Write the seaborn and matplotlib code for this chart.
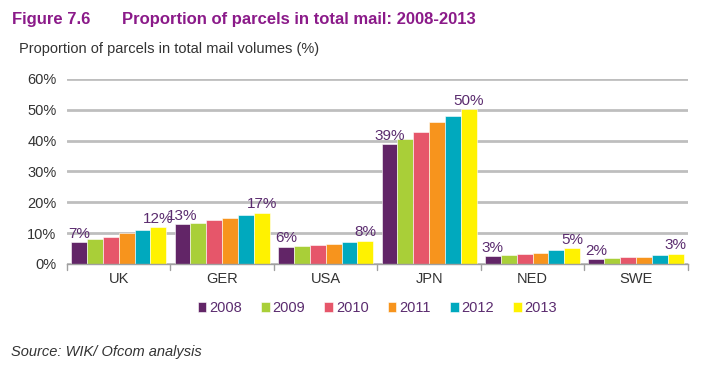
import pandas as pd
import seaborn as sns
import matplotlib.pyplot as plt

countries = ["UK", "GER", "USA", "JPN", "NED", "SWE"]
years = ["2008", "2009", "2010", "2011", "2012", "2013"]

# share of parcels in total mail volumes (%), one list per year
v2008 = [7.0, 12.9, 5.6, 38.8, 2.6, 1.6]
v2009 = [8.1, 13.4, 5.9, 40.5, 2.8, 1.9]
v2010 = [8.9, 14.3, 6.2, 42.9, 3.3, 2.2]
v2011 = [10.0, 14.8, 6.6, 45.9, 3.6, 2.4]
v2012 = [10.9, 15.8, 7.1, 47.9, 4.4, 2.8]
v2013 = [12.0, 16.6, 7.5, 50.2, 5.1, 3.3]

palette = ["#622567", "#A9CF38", "#E6566A", "#F7941D", "#00A9BE", "#FFF200"]
purple = "#8B1A89"
label_col = "#5B2C6F"

rows = []
for yr, vals in zip(years, [v2008, v2009, v2010, v2011, v2012, v2013]):
    for c, v in zip(countries, vals):
        rows.append({"Country": c, "Year": yr, "Value": v})
df = pd.DataFrame(rows)

sns.set_theme(style="white")
plt.rcParams["font.family"] = ["Liberation Sans", "DejaVu Sans"]

fig = plt.figure(figsize=(7.04, 3.67), dpi=100)
ax = fig.add_axes([0.0952, 0.2807, 0.8818, 0.5043])

sns.barplot(data=df, x="Country", y="Value", hue="Year", palette=palette,
            saturation=1, width=0.92, edgecolor="white", linewidth=0.4,
            ax=ax, legend=True)

ax.set_ylim(0, 60)
ax.set_xlim(-0.5, 5.5)
ax.set_yticks(range(0, 61, 10))
ax.set_yticklabels([f"{t}%" for t in range(0, 61, 10)], fontsize=10.5, color="#333333")
ax.yaxis.grid(True, color="#BEBEBE", linewidth=2)
ax.set_axisbelow(True)
for s in ["top", "right", "left"]:
    ax.spines[s].set_visible(False)
ax.spines["bottom"].set_color("#A0A0A0")
ax.spines["bottom"].set_linewidth(1)
ax.tick_params(axis="y", length=0, pad=0)
for t in ax.get_yticklabels():
    t.set_x(-0.017)
ax.tick_params(axis="x", length=0, labelsize=10.5, labelcolor="#333333", pad=6)
ax.set_xlabel("")
ax.set_ylabel("")

# tick marks between categories
for b in [-0.5, 0.5, 1.5, 2.5, 3.5, 4.5, 5.5]:
    ax.plot([b, b], [0, -1.8], color="#A0A0A0", lw=1, clip_on=False)

# labels only on first and last year
for cont in [ax.containers[0], ax.containers[-1]]:
    ax.bar_label(cont, labels=[f"{v:.0f}%" for v in cont.datavalues],
                 fontsize=11, color=label_col, padding=1)

leg = ax.legend(loc="upper center", bbox_to_anchor=(0.5, -0.13), ncol=6,
                frameon=False, fontsize=10.5, handlelength=0.6, handleheight=0.6,
                handletextpad=0.2, columnspacing=1.3)
for t in leg.get_texts():
    t.set_color(label_col)

fig.text(0.017, 0.935, "Figure 7.6", fontsize=12, fontweight="bold", color=purple)
fig.text(0.173, 0.935, "Proportion of parcels in total mail: 2008-2013",
         fontsize=12, fontweight="bold", color=purple)
fig.text(0.027, 0.855, "Proportion of parcels in total mail volumes (%)",
         fontsize=10.5, color="#333333")
fig.text(0.015, 0.03, "Source: WIK/ Ofcom analysis", fontsize=10.5,
         style="italic", color="#333333")

plt.savefig("out.png", dpi=100)
